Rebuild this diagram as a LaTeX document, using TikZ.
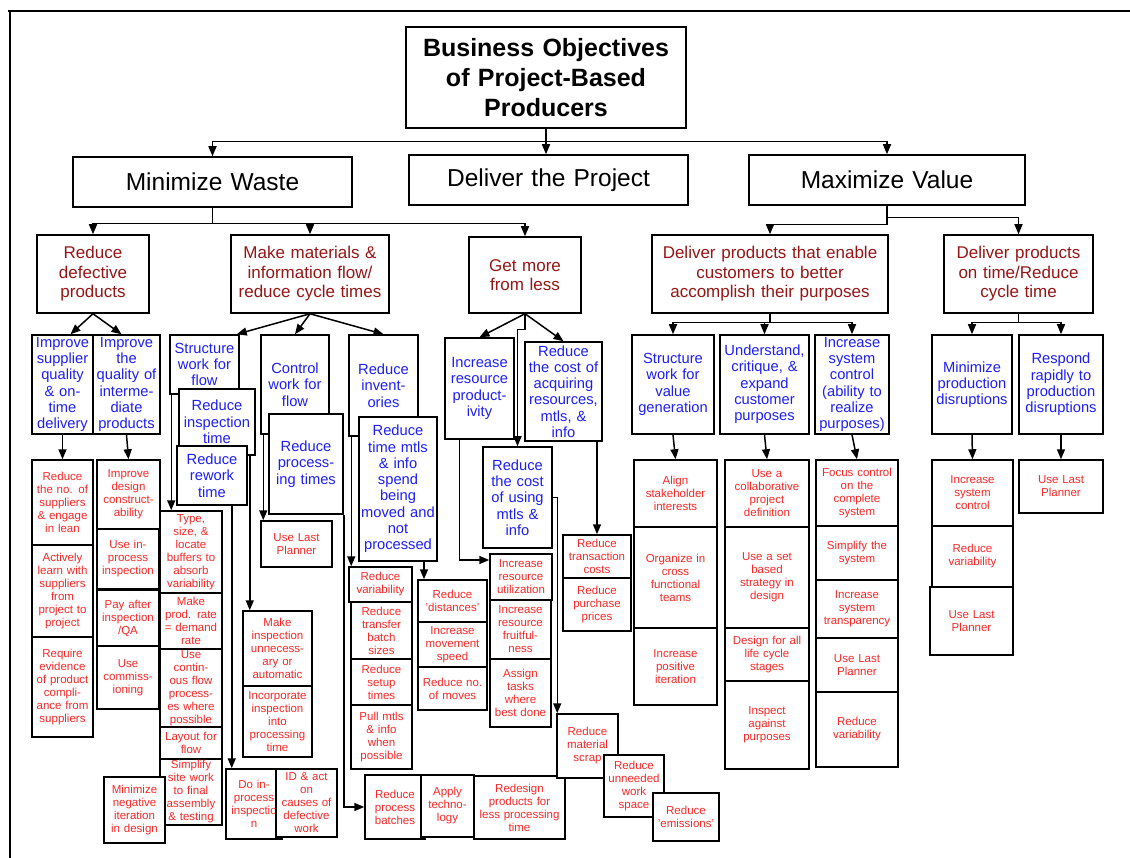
\documentclass[tikz,border=0pt]{standalone}
\usepackage{fontspec}
\setmainfont{Liberation Sans}
\usepackage{tikz}
\usetikzlibrary{arrows.meta}

\definecolor{aimred}{RGB}{150,22,22}
\definecolor{meanblue}{RGB}{30,30,245}
\definecolor{actred}{RGB}{250,40,40}

\tikzset{
  box/.style={draw, fill=white, line width=1.5pt, inner xsep=0pt, inner ysep=1pt, align=center},
  sz/.style 2 args={text width=#1pt, minimum height=#2pt},
  head/.style={box, font=\bfseries\fontsize{25}{30}\selectfont},
  goal/.style={box, font=\fontsize{24.5}{28}\selectfont},
  aim/.style={box, text=aimred, font=\fontsize{17}{19.5}\selectfont},
  means/.style={box, text=meanblue, font=\fontsize{14.7}{16.3}\selectfont},
  act/.style={box, text=actred, font=\fontsize{11.5}{13}\selectfont},
}

\begin{document}
\begin{tikzpicture}[x=1pt,y=-1pt,>={Triangle[length=10pt,width=8pt]},line width=1.5pt]
\useasboundingbox (0,0) rectangle (1130,858);
\draw[line width=2pt] (8,11) -- (1130,11);
\draw[line width=2pt] (10,10) -- (10,858);

% objectives
\node[head, sz={280}{101}] at (546,77.5) (top) {Business Objectives\\of Project-Based\\Producers};
\node[goal, sz={279}{50}] at (212.5,182) (mw) {Minimize Waste};
\node[goal, sz={279}{50}] at (548.5,180) (dp) {Deliver the Project};
\node[goal, sz={276}{50}] at (887,180) (mv) {Maximize Value};

\node[aim, sz={112}{78}] at (93,274) (rdp) {Reduce\\defective\\products};
\node[aim, sz={158}{78}] at (310,274) (mmf) {Make materials \&\\information flow/\\reduce cycle times};
\node[aim, sz={112}{76}] at (525,275) (gml) {Get more\\from less};
\node[aim, sz={236}{78}] at (770,274) (dpe) {Deliver products that enable\\customers to better\\accomplish their purposes};
\node[aim, sz={149}{78}] at (1018.5,274) (dpt) {Deliver products\\on time/Reduce\\cycle time};

% means
\node[means, sz={61}{99}] at (62.5,384.5) (isq) {Improve\\supplier\\quality\\\& on-\\time\\delivery};
\node[means, sz={67}{99}] at (126.5,384.5) (iqi) {Improve\\the\\quality of\\interme-\\diate\\products};
\node[means, sz={69}{59}] at (204.5,364.5) (swf) {Structure\\work for\\flow};
\node[means, sz={76}{66}] at (217,422) (rit) {Reduce\\inspection\\time};
\node[means, sz={70}{59}] at (212,475.5) (rrt) {Reduce\\rework\\time};
\node[means, sz={68}{99}] at (295,384.5) (cwf) {Control\\work for\\flow};
\node[means, sz={74}{100}] at (306,464) (rpt) {Reduce\\process-\\ing times};
\node[means, sz={69}{101}] at (383.5,385.5) (rinv) {Reduce\\invent-\\ories};
\node[means, sz={78}{144}] at (398,489) (rtm) {Reduce\\time mtls\\\& info\\spend\\being\\moved and\\not\\processed};
\node[means, sz={69}{101}] at (479.5,388.5) (irp) {Increase\\resource\\product-\\ivity};
\node[means, sz={77}{99}] at (563.5,391.5) (rca) {Reduce\\the cost of\\acquiring\\resources,\\mtls, \&\\info};
\node[means, sz={69}{101}] at (517.5,497.5) (rcu) {Reduce\\the cost\\of using\\mtls \&\\info};
\node[means, sz={82}{99}] at (673,384.5) (swv) {Structure\\work for\\value\\generation};
\node[means, sz={89}{99}] at (764.5,384.5) (ucp) {Understand,\\critique, \&\\expand\\customer\\purposes};
\node[means, sz={74}{99}] at (852,384.5) (isc) {Increase\\system\\control\\(ability to\\realize\\purposes)};
\node[means, sz={80}{99}] at (972,384.5) (mpd) {Minimize\\production\\disruptions};
\node[means, sz={84}{99}] at (1061,384.5) (rrd) {Respond\\rapidly to\\production\\disruptions};

% actions
\node[act, sz={61}{85}] at (62.5,502.5) (a1) {Reduce\\the no. of\\suppliers\\\& engage\\in lean};
\node[act, sz={61}{92}] at (62.5,591) (a2) {Actively\\learn with\\suppliers\\from\\project to\\project};
\node[act, sz={61}{100}] at (62.5,687) (a3) {Require\\evidence\\of product\\compli-\\ance from\\suppliers};
\node[act, sz={63}{69}] at (128.5,494.5) (b1) {Improve\\design\\construct-\\ability};
\node[act, sz={62}{60}] at (128,559) (b2) {Use in-\\process\\inspection};
\node[act, sz={62}{56}] at (128,618) (b3) {Pay after\\inspection\\/QA};
\node[act, sz={62}{63}] at (128,677.5) (b4) {Use\\commiss-\\ioning};
\node[act, sz={62}{82}] at (191,552) (c1) {Type,\\size, \&\\locate\\buffers to\\absorb\\variability};
\node[act, sz={62}{56}] at (191,621) (c2) {Make\\prod. rate\\= demand\\rate};
\node[act, sz={62}{78}] at (191,688) (c3) {Use\\contin-\\ous flow\\process-\\es where\\possible};
\node[act, sz={62}{32}] at (191,743) (c4) {Layout for\\flow};
\node[act, sz={62}{66}] at (191,792) (c5) {Simplify\\site work\\to final\\assembly\\\& testing};
\node[act, sz={61}{66}] at (134.5,810) (c6) {Minimize\\negative\\iteration\\in design};
\node[act, sz={71}{46}] at (296.5,544) (d1) {Use Last\\Planner};
\node[act, sz={69}{75}] at (277.5,648.5) (e1) {Make\\inspection\\unnecess-\\ary or\\automatic};
\node[act, sz={69}{71}] at (277.5,721.5) (e2) {Incorporate\\inspection\\into\\processing\\time};
\node[act, sz={56}{70}] at (254,804) (f1) {Do in-\\process\\inspectio\\n};
\node[act, sz={61}{68}] at (306.5,803) (f2) {ID \& act\\on\\causes of\\defective\\work};
\node[act, sz={63}{35}] at (380.5,584.5) (g1) {Reduce\\variability};
\node[act, sz={61}{57}] at (381.5,630.5) (g2) {Reduce\\transfer\\batch\\sizes};
\node[act, sz={61}{46}] at (381.5,682) (g3) {Reduce\\setup\\times};
\node[act, sz={61}{64}] at (381.5,737) (g4) {Pull mtls\\\& info\\when\\possible};
\node[act, sz={69}{42}] at (452.5,601) (h1) {Reduce\\'distances'};
\node[act, sz={69}{45}] at (452.5,644.5) (h2) {Increase\\movement\\speed};
\node[act, sz={69}{43}] at (452.5,688.5) (h3) {Reduce no.\\of moves};
\node[act, sz={62}{46}] at (521,577) (i1) {Increase\\resource\\utilization};
\node[act, sz={61}{59}] at (520.5,629.5) (i2) {Increase\\resource\\fruitful-\\ness};
\node[act, sz={61}{68}] at (520.5,693) (i3) {Assign\\tasks\\where\\best done};
\node[act, sz={60}{64}] at (395,807) (j1) {Reduce\\process\\batches};
\node[act, sz={53}{62}] at (447.5,806) (j2) {Apply\\techno-\\logy};
\node[act, sz={91}{63}] at (519.5,807.5) (j3) {Redesign\\products for\\less processing\\time};
\node[act, sz={61}{64}] at (587.5,746) (k1) {Reduce\\material\\scrap};
\node[act, sz={60}{62}] at (634,786) (k2) {Reduce\\unneeded\\work\\space};
\node[act, sz={66}{48}] at (686,817) (k3) {Reduce\\'emissions'};
\node[act, sz={68}{43}] at (597,556.5) (m1) {Reduce\\transaction\\costs};
\node[act, sz={68}{53}] at (597,604.5) (m2) {Reduce\\purchase\\prices};
\node[act, sz={83}{67}] at (675.5,493.5) (n1) {Align\\stakeholder\\interests};
\node[act, sz={83}{101}] at (675.5,577.5) (n2) {Organize in\\cross\\functional\\teams};
\node[act, sz={83}{77}] at (675.5,666.5) (n3) {Increase\\positive\\iteration};
\node[act, sz={84}{67}] at (767,493.5) (o1) {Use a\\collaborative\\project\\definition};
\node[act, sz={84}{101}] at (767,577.5) (o2) {Use a set\\based\\strategy in\\design};
\node[act, sz={84}{53}] at (767,654.5) (o3) {Design for all\\life cycle\\stages};
\node[act, sz={84}{88}] at (767,725) (o4) {Inspect\\against\\purposes};
\node[act, sz={82}{66}] at (857,493) (p1) {Focus control\\on the\\complete\\system};
\node[act, sz={82}{54}] at (857,553) (p2) {Simplify the\\system};
\node[act, sz={82}{58}] at (857,609) (p3) {Increase\\system\\transparency};
\node[act, sz={82}{54}] at (857,665) (p4) {Use Last\\Planner};
\node[act, sz={82}{75}] at (857,729.5) (p5) {Reduce\\variability};
\node[act, sz={81}{66}] at (972.5,493) (q1) {Increase\\system\\control};
\node[act, sz={81}{61}] at (972.5,556.5) (q2) {Reduce\\variability};
\node[act, sz={83}{68}] at (971.5,621) (q3) {Use Last\\Planner};
\node[act, sz={84}{53}] at (1061,486.5) (r1) {Use Last\\Planner};

% top levels
\draw[->] (top.south) -- (top.south |- dp.north);
\draw[->] (top.south) -- ++(0,13) -| (mw.north);
\draw[->] (top.south) -- ++(0,13) -| (mv.north);
\draw[->] (mw.south) -- ++(0,16) -| (rdp.north);
\draw[->] (mw.south) -- ++(0,16) -| (mmf.north);
\draw[->] (mw.south) -- ++(0,16) -| (gml.north);
\draw[->] (mv.south) -- ++(0,19) -| (dpe.north);
\draw[->] (mv.south) -- ++(0,12) -| (dpt.north);

% to the means
\draw[->] (rdp.south) -- ([xshift=8pt]isq.north);
\draw[->] (rdp.south) -- ([xshift=-5pt]iqi.north);
\draw[->] (mmf.south) -- ([xshift=-3pt]swf.north east);
\draw[->] (mmf.south) -- (cwf.north);
\draw[->] (mmf.south) -- (rinv.north);
\draw[->] (gml.south) -- (irp.north);
\draw[->] (gml.south) -- (rca.north);
\draw[->] (gml.south) -- ++(0,16) -| (rcu.north);
\draw[->] (dpe.south) -- ++(0,9) -| (swv.north);
\draw[->] (dpe.south) -- ++(0,9) -| (ucp.north);
\draw[->] (dpe.south) -- ++(0,9) -| (isc.north);
\draw[->] (dpt.south) -- ++(0,9) -| (mpd.north);
\draw[->] (dpt.south) -- ++(0,9) -| (rrd.north);

% to the actions
\draw[->] (isq.south) -- (a1.north);
\draw[->] (iqi.south) -- (b1.north);
\draw[->] ([xshift=2pt]swf.south west) coordinate (s1) -- (s1 |- c1.north);
\draw[->] ([xshift=3pt]cwf.south west) coordinate (s2) -- (s2 |- d1.north);
\draw[->] ([xshift=-6pt]rit.south east) coordinate (s3) -- (s3 |- e1.north);
\draw[->] ([xshift=-16pt]rrt.south east) coordinate (s4) -- (s4 |- f1.north);
\draw[->] (rpt.south east) |- (j1.west);
\draw[->] ([xshift=3pt]rinv.south west) coordinate (s5) -- (s5 |- g1.north);
\draw[->] ([xshift=26pt]rtm.south) coordinate (s6) -- (s6 |- h1.north);
\draw[->] ([xshift=-20pt]irp.south) |- ([yshift=17pt]i1.west);
\draw[->] (rcu.east) -| ([xshift=1pt]k1.north west);
\draw[->] (rca.south -| m1.north) -- (m1.north);
\draw[->] (swv.south) -- (n1.north);
\draw[->] (ucp.south) -- (o1.north);
\draw[->] (isc.south) -- (p1.north);
\draw[->] (mpd.south) -- (q1.north);
\draw[->] (rrd.south) -- (r1.north);
\end{tikzpicture}
\end{document}
